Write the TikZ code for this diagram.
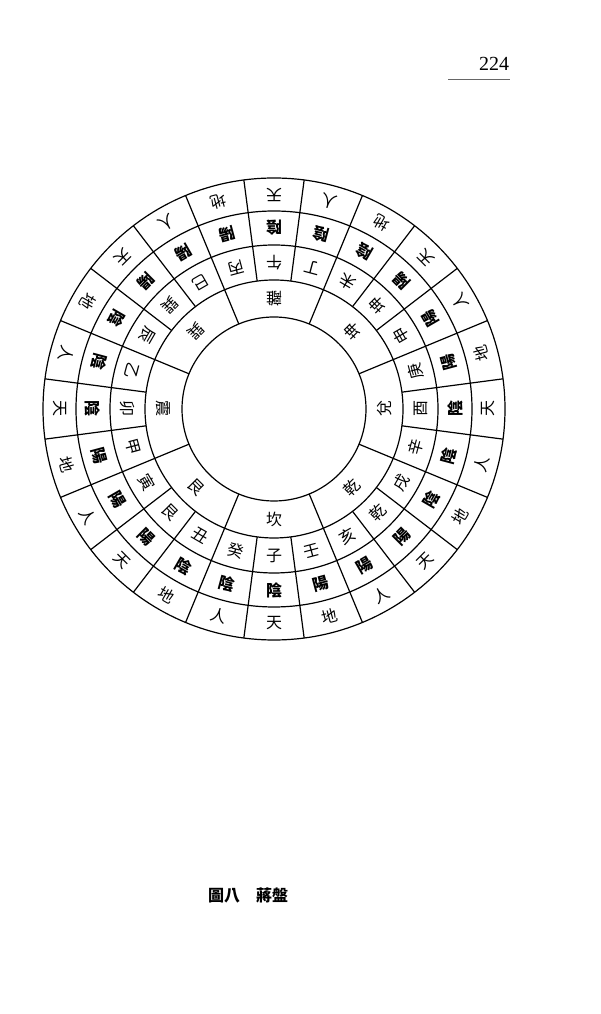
\documentclass[tikz,border=0pt]{standalone}
\usepackage{fontspec}
\setmainfont{Liberation Serif}
\newfontfamily\cjk{Noto Sans CJK TC}
\usetikzlibrary{positioning}

\begin{document}
\begin{tikzpicture}[x=1pt,y=1pt,
  ringtxt/.style={font=\cjk\fontsize{16}{16}\selectfont, inner sep=0pt},
  yytxt/.style={font=\cjk\bfseries\fontsize{16}{16}\selectfont, inner sep=0pt},
  ringline/.style={line width=1.2pt}]
\useasboundingbox[fill=white] (0,0) rectangle (600,1014);

% page number
\node[font=\fontsize{20}{20}\selectfont] (pagenum) at (494,950) {224};
\draw[line width=0.6pt, black!60] (448,935) -- (510,935);

\begin{scope}[shift={(274,605)}]
% rings
\foreach \r in {92,129,164,198,231}
  \draw[ringline] (0,0) circle (\r);
\foreach \a in {7.5,22.5,...,352.5}
  \draw[ringline] (\a:129) -- (\a:231);
\foreach \a in {22.5,67.5,...,337.5}
  \draw[ringline] (\a:92) -- (\a:129);

% eight trigrams
\foreach \a/\txt/\n in {270/坎/kan, 225/艮/gen, 180/震/zhen, 135/巽/xun,
  90/離/li, 45/坤/kun, 0/兌/dui, -45/乾/qian}
  \node[ringtxt, rotate=\a+90] (\n) at (\a:110.5) {\txt};

% 24 mountains, yin/yang, tian/di/ren
\foreach \k/\shan/\yy/\tdr in {
  0/子/陰/天, 1/癸/陰/人, 2/丑/陰/地, 3/艮/陽/天, 4/寅/陽/人, 5/甲/陽/地,
  6/卯/陰/天, 7/乙/陰/人, 8/辰/陰/地, 9/巽/陽/天, 10/巳/陽/人, 11/丙/陽/地,
  12/午/陰/天, 13/丁/陰/人, 14/未/陰/地, 15/坤/陽/天, 16/申/陽/人, 17/庚/陽/地,
  18/酉/陰/天, 19/辛/陰/人, 20/戌/陰/地, 21/乾/陽/天, 22/亥/陽/人, 23/壬/陽/地} {
  \pgfmathsetmacro{\ang}{270-15*\k}
  \node[ringtxt, rotate=\ang+90] (shan\k) at (\ang:146.5) {\shan};
  \node[yytxt, rotate=\ang+90] (yy\k) at (\ang:181) {\yy};
  \node[ringtxt, rotate=\ang+90] (tdr\k) at (\ang:214.5) {\tdr};
}
\end{scope}

% caption
\node[font=\cjk\bfseries\fontsize{16}{16}\selectfont] (caption) at (248,119) {圖八　蔣盤};
\end{tikzpicture}
\end{document}
